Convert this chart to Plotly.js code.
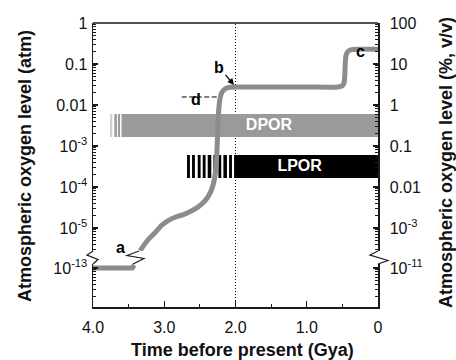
<!DOCTYPE html>
<html>
<head>
<meta charset="utf-8">
<script src="https://cdn.plot.ly/plotly-3.0.1.min.js"></script>
<style>html,body{margin:0;padding:0;background:#fff;}#chart{width:456px;height:360px;}</style>
</head>
<body>
<div id="chart"></div>
<script>
// ---------- data (time in Gya, oxygen in atm) ----------
var curveLowT   = [4.0, 3.45, 3.42];
var curveLowO2  = [1e-13, 1e-13, 1.18e-13];
var curveHighT  = [3.34, 3.23, 3.12, 3.04, 2.95, 2.84, 2.74, 2.62, 2.52, 2.42, 2.35, 2.31, 2.29, 2.27, 2.26, 2.25, 2.24, 2.22, 2.19, 2.14, 2.08, 2.0, 1.5, 1.0, 0.56, 0.5, 0.475, 0.465, 0.46, 0.45, 0.42, 0.37, 0.3, 0.0];
var curveHighO2 = [2.8e-6, 5.1e-6, 8.0e-6, 1.15e-5, 1.5e-5, 1.85e-5, 2.1e-5, 2.6e-5, 3.3e-5, 4.8e-5, 7.5e-5, 1.2e-4, 1.8e-4, 3.5e-4, 8e-4, 2.2e-3, 6e-3, 1.35e-2, 2.05e-2, 2.5e-2, 2.7e-2, 2.75e-2, 2.75e-2, 2.75e-2, 2.75e-2, 2.95e-2, 3.6e-2, 5.5e-2, 0.1, 0.16, 0.205, 0.225, 0.23, 0.23];

var dporRange = [1.66e-3, 6.0e-3];          // atm, bottom / top of DPOR band
var dporStripeStart = [3.76, 3.70, 3.65];
var dporStripeEnd   = [3.73, 3.665, 3.62];
var dporSolid = [3.60, 0.0];

var lporRange = [1.66e-4, 6.0e-4];          // atm, bottom / top of LPOR band
var lporStripeStart = [2.68, 2.61, 2.53, 2.46, 2.39, 2.31, 2.24, 2.17, 2.09];
var lporStripeEnd   = [2.64, 2.57, 2.49, 2.42, 2.34, 2.27, 2.20, 2.12, 2.05];
var lporSolid = [2.02, 0.0];

var dLevel = 1.57e-2;  var dSpan = [2.755, 2.19];   // dashed marker "d"
var markerTime = 2.0;                               // dotted vertical line

var xTickVals = [4, 3, 2, 1, 0];
var xTickText = ['4.0', '3.0', '2.0', '1.0', '0'];
var xMinorVals = [3.5, 2.5, 1.5, 0.5];
var leftTickVals = [1, 0.1, 0.01, 1e-3, 1e-4, 1e-5];
var leftTickText = ['1', '0.1', '0.01', '10<sup>-3</sup>', '10<sup>-4</sup>', '10<sup>-5</sup>'];
var leftLowTickVals = [1e-13];
var leftLowTickText = ['10<sup>-13</sup>'];
var rightTickVals = [100, 10, 1, 0.1, 0.01, 1e-3];
var rightTickText = ['100', '10', '1', '0.1', '0.01', '10<sup>-3</sup>'];
var rightLowTickVals = [1e-11];
var rightLowTickText = ['10<sup>-11</sup>'];

// ---------- helpers ----------
function minorLog(lo, hi) {
  var out = [];
  for (var e = lo; e < hi; e++) for (var m = 2; m <= 9; m++) out.push(m * Math.pow(10, e));
  return out;
}
function rects(starts, ends, lo, hi) {
  var xs = [], ys = [];
  for (var i = 0; i < starts.length; i++) {
    if (i > 0) { xs.push(null); ys.push(null); }
    xs.push(starts[i], ends[i], ends[i], starts[i], starts[i]);
    ys.push(lo, lo, hi, hi, lo);
  }
  return {x: xs, y: ys};
}
// pixel helpers for decorations (plot area 93..378 x 23..307)
var L = 93, R = 378, T = 23, B = 307;
function px(x) { return (x - L) / (R - L); }
function py(y) { return (B - y) / (B - T); }
function zig(pts) {
  return pts.map(function (p, i) { return (i ? 'L' : 'M') + px(p[0]).toFixed(4) + ',' + py(p[1]).toFixed(4); }).join(' ');
}

var FONT = 'Liberation Sans, Arial, Helvetica, sans-serif';
var AX = '#1a1a1a';
var CURVE = '#8c8c8c';

var traces = [];
function band(starts, ends, range, color, yaxis) {
  var r = rects(starts, ends, range[0], range[1]);
  traces.push({x: r.x, y: r.y, xaxis: 'x', yaxis: yaxis, mode: 'lines', fill: 'toself',
    fillcolor: color, line: {width: 0, color: color}, hoverinfo: 'skip', showlegend: false});
}
band([dporStripeStart[0]], [dporStripeEnd[0]], dporRange, '#cfcfcf', 'y');
band(dporStripeStart.slice(1), dporStripeEnd.slice(1), dporRange, '#9a9a9a', 'y');
band([dporSolid[0]], [dporSolid[1]], dporRange, '#9a9a9a', 'y');
band(lporStripeStart, lporStripeEnd, lporRange, '#000000', 'y');
band([lporSolid[0]], [lporSolid[1]], lporRange, '#000000', 'y');

traces.push({x: [1.53], y: [Math.sqrt(dporRange[0] * dporRange[1])], text: ['<b>DPOR</b>'], mode: 'text',
  textfont: {family: FONT, size: 16, color: '#ffffff'}, xaxis: 'x', yaxis: 'y', hoverinfo: 'skip', showlegend: false});
traces.push({x: [1.10], y: [Math.sqrt(lporRange[0] * lporRange[1])], text: ['<b>LPOR</b>'], mode: 'text',
  textfont: {family: FONT, size: 16, color: '#ffffff'}, xaxis: 'x', yaxis: 'y', hoverinfo: 'skip', showlegend: false});

traces.push({x: dSpan, y: [dLevel, dLevel], mode: 'lines', line: {color: '#000', width: 1, dash: '5px,2.5px'},
  xaxis: 'x', yaxis: 'y', hoverinfo: 'skip', showlegend: false});

traces.push({x: curveHighT, y: curveHighO2, mode: 'lines', line: {color: CURVE, width: 5, shape: 'spline', smoothing: 0.5},
  xaxis: 'x', yaxis: 'y', hoverinfo: 'skip', showlegend: false});
traces.push({x: curveLowT, y: curveLowO2, mode: 'lines', line: {color: CURVE, width: 5},
  xaxis: 'x', yaxis: 'y3', hoverinfo: 'skip', showlegend: false});

// placeholders so the right-hand axes are drawn
traces.push({x: [null], y: [null], xaxis: 'x', yaxis: 'y2', mode: 'lines', hoverinfo: 'skip', showlegend: false});
traces.push({x: [null], y: [null], xaxis: 'x', yaxis: 'y4', mode: 'lines', hoverinfo: 'skip', showlegend: false});

var upperDom = [py(251), 1];
var lowerDom = [0, py(264)];
var upRange = [-(251 - T) / 41, 0];
var lowRange = [-13 - (B - 268) / 41, -13 + (268 - 264) / 41];

function yax(o) {
  var base = {type: 'log', showgrid: false, zeroline: false, showline: true, linecolor: AX, linewidth: 1.5,
    ticks: 'inside', ticklen: 5, tickwidth: 1.2, tickcolor: AX, tickmode: 'array',
    tickfont: {family: FONT, size: 16, color: '#111'}, anchor: 'x'};
  for (var k in o) base[k] = o[k];
  return base;
}
function minorY(vals) {
  return {ticks: 'inside', ticklen: 3, tickwidth: 1, tickcolor: AX, tickmode: 'array', tickvals: vals};
}

var layout = {
  width: 456, height: 360,
  margin: {l: L, r: 456 - R, t: T, b: 360 - B},
  paper_bgcolor: '#fff', plot_bgcolor: 'rgba(0,0,0,0)',
  showlegend: false,
  font: {family: FONT, color: '#111'},
  xaxis: {range: [4.0, 0], anchor: 'y3', domain: [0, 1], showgrid: false, zeroline: false,
    showline: true, linecolor: AX, linewidth: 1.5, ticks: 'inside', ticklen: 6, tickwidth: 1.2, tickcolor: AX,
    tickmode: 'array', tickvals: xTickVals, ticktext: xTickText, ticklabelstandoff: 5,
    tickfont: {family: FONT, size: 16, color: '#111'},
    minor: {ticks: 'inside', ticklen: 3, tickwidth: 1, tickcolor: AX, tickmode: 'array', tickvals: xMinorVals}},
  yaxis: yax({domain: upperDom, range: upRange, tickvals: leftTickVals, ticktext: leftTickText, side: 'left',
    ticklabelstandoff: 1, minor: minorY(minorLog(-6, 0))}),
  yaxis2: yax({overlaying: 'y', side: 'right', range: [upRange[0] + 2, upRange[1] + 2],
    tickvals: rightTickVals, ticktext: rightTickText, ticklabelstandoff: 7, minor: minorY(minorLog(-4, 2))}),
  yaxis3: yax({domain: lowerDom, range: lowRange, tickvals: leftLowTickVals, ticktext: leftLowTickText, side: 'left',
    ticklabelstandoff: 1, minor: minorY(minorLog(-14, -12))}),
  yaxis4: yax({overlaying: 'y3', side: 'right', range: [lowRange[0] + 2, lowRange[1] + 2],
    tickvals: rightLowTickVals, ticktext: rightLowTickText, ticklabelstandoff: 7, minor: minorY(minorLog(-12, -10))}),
  shapes: [
    {type: 'line', xref: 'x', yref: 'paper', x0: markerTime, x1: markerTime, y0: 0, y1: 1,
      line: {color: '#000', width: 1, dash: '1px,2px'}, layer: 'below'},
    {type: 'line', xref: 'paper', yref: 'paper', x0: 0, x1: 1, y0: 1, y1: 1, line: {color: AX, width: 1.5}},
    {type: 'path', xref: 'paper', yref: 'paper', path: zig([[93, 251], [87, 255], [98, 259.5], [93, 264]]),
      line: {color: AX, width: 1.2}},
    {type: 'path', xref: 'paper', yref: 'paper', path: zig([[378, 251], [370, 255], [388, 260.5], [378, 264]]),
      line: {color: AX, width: 1.2}},
    {type: 'path', xref: 'paper', yref: 'paper', path: zig([[139, 251], [127, 255.5], [144, 258.5], [133, 264]]),
      line: {color: AX, width: 1.2}}
  ],
  annotations: [
    {xref: 'paper', yref: 'paper', x: px(25), y: py(166), text: '<b>Atmospheric oxygen level (atm)</b>',
      textangle: -90, showarrow: false, xanchor: 'center', yanchor: 'middle', font: {family: FONT, size: 18, color: '#111'}},
    {xref: 'paper', yref: 'paper', x: px(446), y: py(163), text: '<b>Atmospheric oxygen level (%, v/v)</b>',
      textangle: -90, showarrow: false, xanchor: 'center', yanchor: 'middle', font: {family: FONT, size: 18, color: '#111'}},
    {xref: 'paper', yref: 'paper', x: px(242), y: py(350), text: '<b>Time before present (Gya)</b>',
      showarrow: false, xanchor: 'center', yanchor: 'middle', font: {family: FONT, size: 18, color: '#111'}},
    {xref: 'paper', yref: 'paper', x: px(114), y: py(258), text: '<b>a</b>', showarrow: false,
      font: {family: FONT, size: 16, color: '#000'}},
    {xref: 'paper', yref: 'paper', x: px(234), y: py(85), text: '<b>b</b>', showarrow: true,
      ax: -15, ay: -18, arrowhead: 2, arrowsize: 1, arrowwidth: 1.3, arrowcolor: '#000', standoff: 0,
      font: {family: FONT, size: 16, color: '#000'}},
    {xref: 'paper', yref: 'paper', x: px(367), y: py(41), text: '<b>c</b>', showarrow: false,
      font: {family: FONT, size: 16, color: '#000'}},
    {xref: 'paper', yref: 'paper', x: px(196), y: py(89), text: '<b>d</b>', showarrow: false,
      font: {family: FONT, size: 16, color: '#000'}}
  ]
};

Plotly.newPlot('chart', traces, layout, {displayModeBar: false, staticPlot: true});
</script>
</body>
</html>
